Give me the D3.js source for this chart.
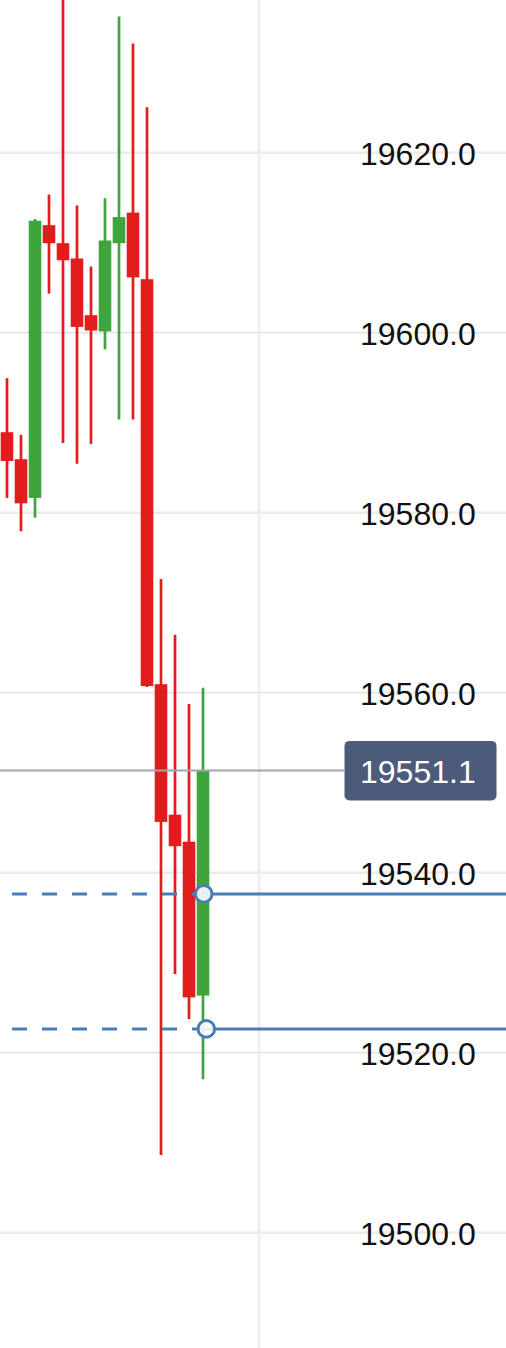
<!DOCTYPE html>
<html>
<head>
<meta charset="utf-8">
<script src="https://cdn.jsdelivr.net/npm/d3@7/dist/d3.min.js"></script>
<style>
html,body{margin:0;padding:0;background:#fff;}
svg{display:block;}
</style>
</head>
<body>
<svg id="chart" width="506" height="1348"></svg>
<script>
// ---- data ----
const candleIndex = [0,1,2,3,4,5,6,7,8,9,10,11,12,13,14];
const opens  = [19588.9,19585.9,19581.6,19611.9,19609.9,19608.2,19601.9,19600.1,19609.9,19613.3,19605.9,19560.9,19546.4,19543.4,19526.3];
const highs  = [19594.9,19588.6,19612.6,19615.3,19640.0,19614.1,19607.3,19614.9,19635.1,19632.1,19625.0,19572.6,19566.4,19558.7,19560.5];
const lows   = [19581.6,19577.9,19579.4,19604.3,19587.7,19585.4,19587.6,19598.1,19590.3,19590.3,19560.6,19508.6,19528.7,19523.7,19517.0];
const closes = [19585.7,19581.0,19612.4,19609.9,19608.0,19600.6,19600.2,19610.2,19612.8,19606.1,19560.7,19545.6,19542.9,19526.1,19551.3];
const tickValues = [19500,19520,19540,19560,19580,19600,19620];
const currentPriceLabel = "19551.1";
const orderLines = [19537.6, 19522.6];

// ---- layout ----
const W = 506, H = 1348;
const svg = d3.select("#chart");
const y = d3.scaleLinear().domain([19500, 19620]).range([1232.3, 152.3]);
const x = d3.scaleBand().domain(candleIndex).range([0, 210]).paddingInner(0.1).paddingOuter(0.05);
const cx = i => x(i) + x.bandwidth() / 2;
const RED = "#e11d1d", GREEN = "#3ea53c", BLUE = "#4a7db3";
const FONT = "'Liberation Sans', Arial, Helvetica, sans-serif";

// horizontal gridlines
const grid = d3.axisRight(y).tickValues(tickValues).tickSize(W).tickFormat("");
svg.append("g").call(grid)
  .call(g => g.select(".domain").remove())
  .call(g => g.selectAll(".tick line").attr("stroke", "#ececec").attr("stroke-width", 2.5));

// vertical gridline
svg.append("line").attr("x1", 259).attr("x2", 259).attr("y1", 0).attr("y2", H)
  .attr("stroke", "#ececec").attr("stroke-width", 2.5);

// candles
const data = candleIndex.map(i => ({i, o: opens[i], h: highs[i], l: lows[i], c: closes[i]}));
const cg = svg.append("g");
cg.selectAll("line.wick").data(data).enter().append("line")
  .attr("x1", d => cx(d.i)).attr("x2", d => cx(d.i))
  .attr("y1", d => y(d.h)).attr("y2", d => y(d.l))
  .attr("stroke", d => d.c >= d.o ? GREEN : RED).attr("stroke-width", 2.7);
cg.selectAll("rect.body").data(data).enter().append("rect")
  .attr("x", d => x(d.i)).attr("width", x.bandwidth())
  .attr("y", d => y(Math.max(d.o, d.c)))
  .attr("height", d => Math.max(1, Math.abs(y(d.o) - y(d.c))))
  .attr("fill", d => d.c >= d.o ? GREEN : RED);

// current price line
const lastClose = closes[closes.length - 1];
const cy = y(lastClose);
svg.append("line").attr("x1", 0).attr("x2", 344).attr("y1", cy).attr("y2", cy)
  .attr("stroke", "#a0a7b2").attr("stroke-width", 2);

// order lines
const last = candleIndex[candleIndex.length - 1];
const handleX = [cx(last) + 0.7, cx(last) + 3.3];
orderLines.forEach((p, k) => {
  const hx = handleX[k];
  svg.append("line").attr("x1", 0).attr("x2", hx).attr("y1", y(p)).attr("y2", y(p))
    .attr("stroke", BLUE).attr("stroke-width", 3)
    .attr("stroke-dasharray", "15,15").attr("stroke-dashoffset", 18);
  svg.append("line").attr("x1", hx).attr("x2", W).attr("y1", y(p)).attr("y2", y(p))
    .attr("stroke", BLUE).attr("stroke-width", 3);
  svg.append("circle").attr("cx", hx).attr("cy", y(p)).attr("r", 8.3)
    .attr("fill", "rgba(255,255,255,0.88)").attr("stroke", BLUE).attr("stroke-width", 3);
});

// axis labels
const labels = d3.axisRight(y).tickValues(tickValues).tickSize(0).tickPadding(0).tickFormat(d3.format(".1f"));
svg.append("g").attr("transform", "translate(360,0)").call(labels)
  .call(g => g.select(".domain").remove())
  .call(g => g.selectAll(".tick text")
    .attr("x", 0).attr("dy", null).attr("y", 12.5)
    .attr("text-anchor", "start")
    .attr("fill", "#111").attr("font-family", FONT).attr("font-size", 32));

// current price tag
svg.append("rect").attr("x", 344.5).attr("y", cy - 29.7).attr("width", 152).attr("height", 59.5)
  .attr("rx", 5).attr("fill", "#4b5b79");
svg.append("text").attr("x", 360).attr("y", cy + 12.5).attr("fill", "#fff")
  .attr("font-family", FONT).attr("font-size", 32).text(currentPriceLabel);
</script>
</body>
</html>
